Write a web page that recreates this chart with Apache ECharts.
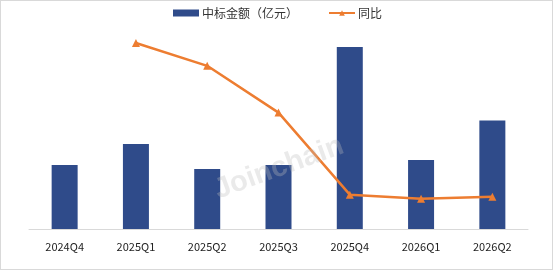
<!DOCTYPE html>
<html>
<head>
<meta charset="utf-8">
<script src="https://cdn.jsdelivr.net/npm/echarts@6/dist/echarts.min.js"></script>
<style>
	html, body { margin: 0; padding: 0; background: #fff; }
	#chart { width: 554px; height: 271px; }
	#frame { position: absolute; left: 0; top: 0; width: 553px; height: 270px; border: 1px solid #d9d9d9; box-sizing: border-box; pointer-events: none; }
</style>
</head>
<body>
<div id="chart"></div>
<div id="frame"></div>
<script>
// 数据
const categories = ['2024Q4', '2025Q1', '2025Q2', '2025Q3', '2025Q4', '2026Q1', '2026Q2']
const amountData = [64.3, 85.4, 60.3, 64.3, 183, 69.3, 109]
const yoyData = [null, 187, 164, 117, 34.5, 30.5, 32.5]

const chart = echarts.init(document.getElementById('chart'))

chart.setOption({
	animation: false,
	textStyle: {
		fontFamily: '"Noto Sans CJK SC", "Noto Sans", sans-serif'
	},
	legend: {
		top: 2,
		left: 168,
		itemWidth: 26,
		itemHeight: 7,
		itemGap: 30,
		textStyle: { color: '#333', fontSize: 12, padding: [0, 0, 0, -2] },
		data: [
			{ name: '中标金额（亿元）', icon: 'rect' },
			{ name: '同比' }
		]
	},
	// 水印
	graphic: [{
		type: 'text',
		x: 279,
		y: 168,
		rotation: 20 * Math.PI / 180,
		z: 100,
		style: {
			text: 'Joinchain',
			fontSize: 29,
			fontWeight: 'bold',
			fontFamily: 'Arial, "Liberation Sans", sans-serif',
			align: 'center',
			verticalAlign: 'middle',
			fill: 'rgba(190,190,190,0.32)'
		}
	}],
	grid: {
		left: 29,
		right: 26,
		top: 30,
		bottom: 42
	},
	xAxis: {
		type: 'category',
		data: categories,
		axisLine: { lineStyle: { color: '#d9d9d9', width: 1 } },
		axisTick: { show: false },
		axisLabel: { color: '#222', fontSize: 11, margin: 12 }
	},
	yAxis: [
		{ type: 'value', min: 0, max: 200, show: false, splitLine: { show: false } },
		{ type: 'value', min: 0, max: 200, show: false, splitLine: { show: false } }
	],
	series: [
		{
			name: '中标金额（亿元）',
			type: 'bar',
			barWidth: 26,
			itemStyle: { color: '#2F4B8A' },
			data: amountData
		},
		{
			name: '同比',
			type: 'line',
			yAxisIndex: 1,
			symbol: 'triangle',
			symbolSize: 8,
			lineStyle: { color: '#ED7D31', width: 2.5 },
			itemStyle: { color: '#ED7D31' },
			data: yoyData
		}
	]
})
</script>
</body>
</html>
